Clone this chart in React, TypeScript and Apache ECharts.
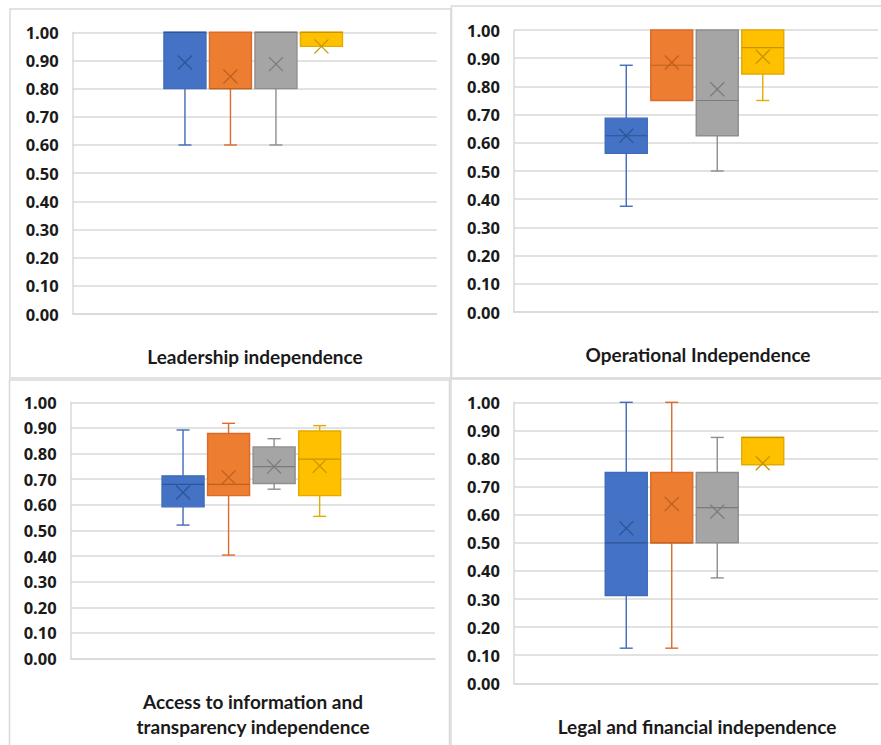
import React, { useEffect, useRef } from "react";
import * as echarts from "echarts";

// ---- data ----
const groupNames = ["Group A", "Group B", "Group C", "Group D"];
const slotCategories = ["s0", "s1", "s2", "s3", "s4", "s5", "s6", "s7"];
const groupSlots = [2, 3, 4, 5];
const yTicks = [0, 0.1, 0.2, 0.3, 0.4, 0.5, 0.6, 0.7, 0.8, 0.9, 1.0];

const panelTitles = [
  ["Leadership independence"],
  ["Operational Independence"],
  ["Access to information and", "transparency independence"],
  ["Legal and financial independence"],
];

// [min, Q1, median, Q3, max] per group
const leadershipBox = [
  [0.6, 0.8, 1.0, 1.0, 1.0],
  [0.6, 0.8, 0.8, 1.0, 1.0],
  [0.6, 0.8, 1.0, 1.0, 1.0],
  [0.95, 0.95, 1.0, 1.0, 1.0],
];
const leadershipMean = [0.893, 0.843, 0.887, 0.95];

const operationalBox = [
  [0.375, 0.5625, 0.625, 0.6875, 0.875],
  [0.75, 0.75, 0.875, 1.0, 1.0],
  [0.5, 0.625, 0.75, 1.0, 1.0],
  [0.75, 0.844, 0.9375, 1.0, 1.0],
];
const operationalMean = [0.625, 0.885, 0.79, 0.905];

const accessBox = [
  [0.521, 0.592, 0.68, 0.713, 0.892],
  [0.404, 0.636, 0.68, 0.878, 0.918],
  [0.661, 0.683, 0.749, 0.826, 0.858],
  [0.555, 0.636, 0.778, 0.888, 0.909],
];
const accessMean = [0.648, 0.707, 0.749, 0.752];

const legalBox = [
  [0.125, 0.3125, 0.5, 0.75, 1.0],
  [0.125, 0.5, 0.5, 0.75, 1.0],
  [0.375, 0.5, 0.625, 0.75, 0.875],
  [0.778, 0.778, 0.875, 0.875, 0.875],
];
const legalMean = [0.552, 0.638, 0.611, 0.783];

const panelBoxes = [leadershipBox, operationalBox, accessBox, legalBox];
const panelMeans = [leadershipMean, operationalMean, accessMean, legalMean];

// ---- styles ----
const fillColors = ["#4472C4", "#ED7D31", "#A5A5A5", "#FFC000"];
const lineColors = ["#3F6BBA", "#DA6B2A", "#8E8E8E", "#E3AA00"];
const markColors = ["#2F5597", "#C0601E", "#7A7A7A", "#C79500"];
const gridColor = "#D9D9D9";
const BOX_W = 42;
const CAP_W = 13;
const MEAN_HALF = 7;

const gridsPx = [
  { left: 72.7, top: 32.3, width: 364, height: 281.7 },
  { left: 514, top: 30, width: 364, height: 282 },
  { left: 70.7, top: 402.3, width: 364.3, height: 256.3 },
  { left: 514, top: 402.3, width: 364, height: 281 },
];

const panelRects = [
  { x: 10, y: 9, width: 441, height: 369 },
  { x: 451.5, y: 6, width: 440, height: 372 },
  { x: 9.5, y: 380, width: 440, height: 370 },
  { x: 451, y: 379, width: 440, height: 370 },
];

const titlePos = [
  { x: 255, y: 356.7 },
  { x: 698, y: 354 },
  { x: 253, y: 714.2 },
  { x: 697, y: 726.7 },
];

export default function App() {
  const ref = useRef<HTMLDivElement>(null);

  useEffect(() => {
    document.body.style.margin = "0";
    if (!ref.current) return;
    const chart = echarts.init(ref.current, undefined, { renderer: "svg" });

    const grid = gridsPx.map((g) => ({ ...g, containLabel: false }));
    const xAxis = gridsPx.map((_, i) => ({
      type: "category",
      gridIndex: i,
      data: slotCategories,
      boundaryGap: true,
      axisLine: { show: true, lineStyle: { color: gridColor, width: 1.5 } },
      axisTick: { show: false },
      axisLabel: { show: false },
      splitLine: { show: false },
    }));
    const yAxis = gridsPx.map((_, i) => ({
      type: "value",
      gridIndex: i,
      min: 0,
      max: 1,
      interval: 0.1,
      axisLine: { show: true, lineStyle: { color: gridColor, width: 1.5 } },
      axisTick: { show: false },
      axisLabel: {
        margin: 14,
        fontFamily: "Open Sans",
        fontWeight: "bold",
        fontSize: 16.5,
        color: "#1a1a1a",
        formatter: (v: number) => v.toFixed(2),
      },
      splitLine: { show: true, lineStyle: { color: gridColor, width: 1.5 } },
    }));

    const series = panelBoxes.map((boxes, p) => ({
      type: "custom",
      name: panelTitles[p].join(" "),
      xAxisIndex: p,
      yAxisIndex: p,
      encode: { x: 0, y: [1, 2, 3, 4, 5, 6] },
      data: boxes.map((b, g) => [groupSlots[g], ...b, panelMeans[p][g], g]),
      renderItem: (params: any, api: any) => {
        const x = api.value(0);
        const mn = api.value(1);
        const q1 = api.value(2);
        const md = api.value(3);
        const q3 = api.value(4);
        const mx = api.value(5);
        const mean = api.value(6);
        const g = api.value(7);
        const cx = api.coord([x, mn])[0] - 1.5;
        const yMin = api.coord([x, mn])[1];
        const yQ1 = api.coord([x, q1])[1];
        const yMd = api.coord([x, md])[1];
        const yQ3 = api.coord([x, q3])[1];
        const yMax = api.coord([x, mx])[1];
        const yMean = api.coord([x, mean])[1];
        const fill = fillColors[g];
        const line = lineColors[g];
        const mark = markColors[g];
        const half = BOX_W / 2;
        const children: any[] = [];
        const lw = 1.4;
        if (yMax < yQ3 - 0.5) {
          children.push({ type: "line", shape: { x1: cx, y1: yQ3, x2: cx, y2: yMax }, style: { stroke: line, lineWidth: lw } });
          children.push({ type: "line", shape: { x1: cx - CAP_W / 2, y1: yMax, x2: cx + CAP_W / 2, y2: yMax }, style: { stroke: line, lineWidth: lw } });
        }
        if (yMin > yQ1 + 0.5) {
          children.push({ type: "line", shape: { x1: cx, y1: yQ1, x2: cx, y2: yMin }, style: { stroke: line, lineWidth: lw } });
          children.push({ type: "line", shape: { x1: cx - CAP_W / 2, y1: yMin, x2: cx + CAP_W / 2, y2: yMin }, style: { stroke: line, lineWidth: lw } });
        }
        children.push({
          type: "rect",
          shape: { x: cx - half, y: yQ3, width: BOX_W, height: yQ1 - yQ3 },
          style: { fill, stroke: line, lineWidth: 1.4 },
        });
        children.push({ type: "line", shape: { x1: cx - half, y1: yMd, x2: cx + half, y2: yMd }, style: { stroke: mark, lineWidth: 1.2 } });
        children.push({ type: "line", shape: { x1: cx - MEAN_HALF, y1: yMean - MEAN_HALF, x2: cx + MEAN_HALF, y2: yMean + MEAN_HALF }, style: { stroke: mark, lineWidth: 1.3 } });
        children.push({ type: "line", shape: { x1: cx - MEAN_HALF, y1: yMean + MEAN_HALF, x2: cx + MEAN_HALF, y2: yMean - MEAN_HALF }, style: { stroke: mark, lineWidth: 1.3 } });
        return { type: "group", children };
      },
    }));

    const graphic: any[] = [];
    panelRects.forEach((r) => {
      graphic.push({
        type: "rect",
        shape: r,
        style: { fill: "none", stroke: gridColor, lineWidth: 1.5 },
        z: 0,
        silent: true,
      });
    });
    panelTitles.forEach((lines, p) => {
      graphic.push({
        type: "text",
        x: titlePos[p].x,
        y: titlePos[p].y,
        style: {
          text: lines.join("\n"),
          fontFamily: "Lato",
          fontWeight: "bold",
          fontSize: 19,
          lineHeight: 25,
          fill: "#1a1a1a",
          textAlign: "center",
          textVerticalAlign: "middle",
        },
      });
    });

    chart.setOption({
      animation: false,
      backgroundColor: "#ffffff",
      grid,
      xAxis,
      yAxis,
      series,
      graphic,
    });
    return () => chart.dispose();
  }, []);

  return <div ref={ref} style={{ width: 881, height: 745 }} />;
}
